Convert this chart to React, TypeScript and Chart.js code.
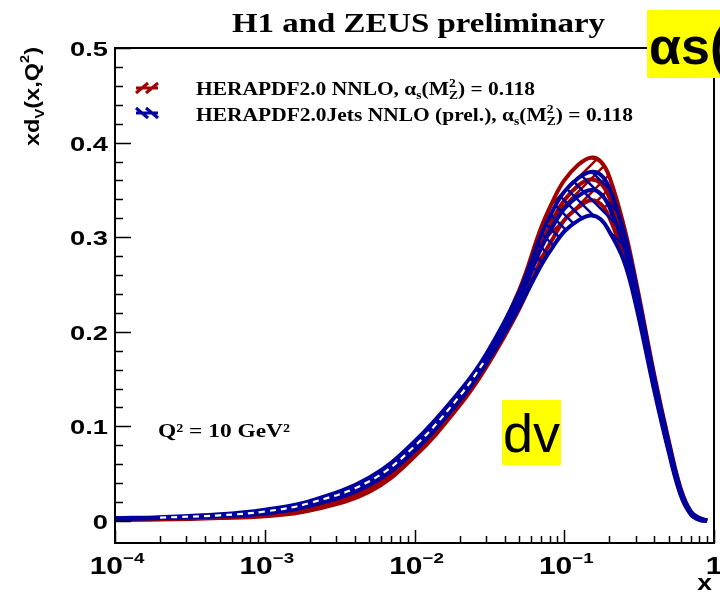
import React, { useEffect, useRef } from "react";
import { Chart, registerables } from "chart.js";

Chart.register(...registerables);

// ---------------- data ----------------
const xValues = [1e-4, 2e-4, 5e-4, 1e-3, 2e-3, 5e-3, 1e-2, 2e-2, 3e-2, 5e-2, 7e-2, 0.085, 0.1, 0.125, 0.15, 0.175, 0.2, 0.25, 0.3, 0.4, 0.5, 0.6, 0.7, 0.8, 0.9];

const redUpper = [0.002, 0.003, 0.005, 0.009, 0.017, 0.040, 0.078, 0.132, 0.172, 0.244, 0.310, 0.340, 0.360, 0.377, 0.384, 0.380, 0.364, 0.312, 0.255, 0.154, 0.084, 0.034, 0.010, 0.003, 0.0005];
const redCentral = [0.0015, 0.002, 0.004, 0.007, 0.014, 0.035, 0.073, 0.127, 0.167, 0.232, 0.292, 0.320, 0.339, 0.355, 0.361, 0.357, 0.342, 0.296, 0.244, 0.147, 0.079, 0.031, 0.009, 0.002, 0.0003];
const redLower = [0.001, 0.0015, 0.003, 0.005, 0.011, 0.031, 0.068, 0.122, 0.162, 0.224, 0.276, 0.300, 0.318, 0.332, 0.339, 0.335, 0.321, 0.280, 0.233, 0.140, 0.074, 0.028, 0.007, 0.001, 0.0001];

const blueUpper = [0.003, 0.004, 0.007, 0.012, 0.021, 0.046, 0.084, 0.137, 0.176, 0.242, 0.302, 0.330, 0.348, 0.363, 0.369, 0.366, 0.352, 0.306, 0.251, 0.151, 0.082, 0.033, 0.010, 0.003, 0.0005];
const blueCentral = [0.0025, 0.0035, 0.006, 0.010, 0.019, 0.042, 0.079, 0.132, 0.171, 0.234, 0.288, 0.313, 0.330, 0.344, 0.350, 0.346, 0.332, 0.291, 0.240, 0.144, 0.077, 0.030, 0.009, 0.002, 0.0003];
const blueLower = [0.002, 0.003, 0.005, 0.008, 0.016, 0.038, 0.074, 0.127, 0.166, 0.226, 0.270, 0.291, 0.306, 0.318, 0.323, 0.319, 0.306, 0.275, 0.229, 0.137, 0.072, 0.027, 0.007, 0.001, 0.0001];

const dashedFromIndex = 1; // white dashed central line shown for 2e-4 <= x <= 0.03
const dashedUpToIndex = 8;

const yTickValues = [0, 0.1, 0.2, 0.3, 0.4, 0.5];
const yTickLabels = ["0", "0.1", "0.2", "0.3", "0.4", "0.5"];
const xTickValues = [1e-4, 1e-3, 1e-2, 1e-1, 1];
const xTickExponents = ["\u22124", "\u22123", "\u22122", "\u22121", ""];

const titleText = "H1 and ZEUS preliminary";
const legendLabel1 = "HERAPDF2.0 NNLO, ";
const legendLabel2 = "HERAPDF2.0Jets NNLO (prel.), ";
const alphaValue = ") = 0.118";
const q2Text = "Q\u00B2 = 10 GeV\u00B2";

const RED = "#a00000";
const BLUE = "#00009c";

// ---------------- text helpers ----------------
type Seg = { t?: string; font: string; dy?: number; sup?: string; sub?: string; supDy?: number; subDy?: number };

function segWidth(ctx: CanvasRenderingContext2D, s: Seg) {
  ctx.font = s.font;
  if (s.sup !== undefined || s.sub !== undefined) {
    return Math.max(ctx.measureText(s.sup || "").width, ctx.measureText(s.sub || "").width);
  }
  return ctx.measureText(s.t || "").width;
}

function drawSegs(
  ctx: CanvasRenderingContext2D,
  segs: Seg[],
  x: number,
  y: number,
  opts: { targetW?: number; sx?: number; align?: "left" | "center" | "right"; color?: string }
) {
  let nat = 0;
  for (const s of segs) nat += segWidth(ctx, s);
  const sx = opts.targetW ? opts.targetW / nat : opts.sx ?? 1;
  const w = nat * sx;
  const align = opts.align || "left";
  const x0 = align === "right" ? x - w : align === "center" ? x - w / 2 : x;
  ctx.save();
  ctx.translate(x0, y);
  ctx.scale(sx, 1);
  ctx.textAlign = "left";
  ctx.textBaseline = "alphabetic";
  ctx.fillStyle = opts.color || "#000";
  let cx = 0;
  for (const s of segs) {
    ctx.font = s.font;
    const sw = segWidth(ctx, s);
    if (s.sup !== undefined || s.sub !== undefined) {
      if (s.sup) ctx.fillText(s.sup, cx, s.supDy ?? -7);
      if (s.sub) ctx.fillText(s.sub, cx, s.subDy ?? 4);
    } else {
      ctx.fillText(s.t || "", cx, s.dy ?? 0);
    }
    cx += sw;
  }
  ctx.restore();
}

function makeHatch(color: string, forward: boolean): CanvasPattern | string {
  const c = document.createElement("canvas");
  const n = 14;
  c.width = n;
  c.height = n;
  const g = c.getContext("2d");
  if (!g) return color;
  g.strokeStyle = color;
  g.lineWidth = 2.6;
  g.lineCap = "square";
  g.beginPath();
  if (forward) {
    g.moveTo(0, n);
    g.lineTo(n, 0);
    g.moveTo(-n / 2, n / 2);
    g.lineTo(n / 2, -n / 2);
    g.moveTo(n / 2, n + n / 2);
    g.lineTo(n + n / 2, n / 2);
  } else {
    g.moveTo(0, 0);
    g.lineTo(n, n);
    g.moveTo(-n / 2, n / 2);
    g.lineTo(n / 2, n + n / 2);
    g.moveTo(n / 2, -n / 2);
    g.lineTo(n + n / 2, n / 2);
  }
  g.stroke();
  const p = g.createPattern(c, "repeat");
  return p || color;
}

const SERIF = '"Liberation Serif", "Times New Roman", serif';
const SANS = '"Liberation Sans", Arial, Helvetica, sans-serif';

const decorPlugin = {
  id: "decor",
  afterDraw(chart: any) {
    const ctx: CanvasRenderingContext2D = chart.ctx;
    const { left, right, top, bottom } = chart.chartArea;
    const xs = chart.scales.x;
    const ys = chart.scales.y;
    ctx.save();

    // frame
    ctx.strokeStyle = "#000";
    ctx.lineWidth = 2;
    ctx.strokeRect(left, top, right - left, bottom - top);

    // y ticks (inside)
    ctx.lineWidth = 1.5;
    ctx.beginPath();
    for (let i = 0; i <= 25; i++) {
      const v = i * 0.02;
      const y = Math.round(ys.getPixelForValue(v)) + 0.5;
      const len = i % 5 === 0 ? 16 : 8;
      ctx.moveTo(left, y);
      ctx.lineTo(left + len, y);
    }
    // x ticks (inside)
    for (let d = -4; d <= 0; d++) {
      for (let m = 1; m <= 9; m++) {
        const v = m * Math.pow(10, d);
        if (v > 1.0000001) break;
        const x = Math.round(xs.getPixelForValue(v)) + 0.5;
        const len = m === 1 ? 13 : 7;
        ctx.moveTo(x, bottom);
        ctx.lineTo(x, bottom - len);
      }
    }
    ctx.stroke();

    // y tick labels
    yTickValues.forEach((v, i) => {
      const y = ys.getPixelForValue(v);
      drawSegs(ctx, [{ t: yTickLabels[i], font: `bold 21px ${SANS}` }], 108, y + 8, { sx: 1.3, align: "right" });
    });

    // x tick labels
    xTickValues.forEach((v, i) => {
      const x = xs.getPixelForValue(v);
      const segs: Seg[] = [{ t: "10", font: `bold 24px ${SANS}` }];
      if (xTickExponents[i]) segs.push({ t: xTickExponents[i], font: `bold 15px ${SANS}`, dy: -11 });
      else segs[0].t = "1";
      drawSegs(ctx, segs, x + (xTickExponents[i] ? 2 : 0), 574, { sx: 1.25, align: "center" });
    });

    // axis titles
    drawSegs(ctx, [{ t: "x", font: `bold 22px ${SANS}` }], 712, 590, { sx: 1.2, align: "right" });
    ctx.save();
    ctx.translate(39, 146);
    ctx.rotate(-Math.PI / 2);
    drawSegs(
      ctx,
      [
        { t: "xd", font: `bold 21px ${SANS}` },
        { t: "V", font: `bold 13px ${SANS}`, dy: 5 },
        { t: "(x,Q", font: `bold 21px ${SANS}` },
        { t: "2", font: `bold 13px ${SANS}`, dy: -10 },
        { t: ")", font: `bold 21px ${SANS}` },
      ],
      0,
      0,
      { targetW: 99 }
    );
    ctx.restore();

    // title
    drawSegs(ctx, [{ t: titleText, font: `bold 27px ${SERIF}` }], 232, 32, { targetW: 373 });

    // legend
    const lf = `bold 19px ${SERIF}`;
    const sf = `bold 12px ${SERIF}`;
    const alphaSegs = (): Seg[] => [
      { t: "\u03B1", font: lf },
      { t: "s", font: sf, dy: 4 },
      { t: "(M", font: lf },
      { sup: "2", sub: "Z", font: sf, supDy: -8, subDy: 4 },
      { t: alphaValue, font: lf },
    ];
    drawSegs(ctx, [{ t: legendLabel1, font: lf }, ...alphaSegs()], 196, 95, { targetW: 339 });
    drawSegs(ctx, [{ t: legendLabel2, font: lf }, ...alphaSegs()], 196, 121, { targetW: 437 });

    // legend symbols
    const sym = (cy: number, color: string, forward: boolean) => {
      ctx.save();
      ctx.strokeStyle = color;
      ctx.lineWidth = 3;
      ctx.lineCap = "butt";
      ctx.beginPath();
      ctx.moveTo(136, cy);
      ctx.lineTo(158, cy);
      for (const cx of [142, 152]) {
        if (forward) {
          ctx.moveTo(cx - 6, cy + 5);
          ctx.lineTo(cx + 6, cy - 5);
        } else {
          ctx.moveTo(cx - 6, cy - 5);
          ctx.lineTo(cx + 6, cy + 5);
        }
      }
      ctx.stroke();
      ctx.restore();
    };
    sym(88, RED, true);
    sym(113, BLUE, false);

    // Q2 annotation
    drawSegs(ctx, [{ t: q2Text, font: `bold 19px ${SERIF}` }], 158, 437, { targetW: 132 });

    // yellow overlay boxes
    ctx.fillStyle = "#ffff00";
    ctx.fillRect(502, 400, 59, 65);
    ctx.fillRect(647, 10, 73, 68);
    ctx.fillStyle = "#000";
    ctx.textAlign = "left";
    ctx.textBaseline = "alphabetic";
    ctx.font = `54px ${SANS}`;
    ctx.fillText("dv", 503, 452);
    ctx.font = `bold 52px ${SANS}`;
    ctx.fillText("\u03B1s(", 649, 64);

    ctx.restore();
  },
};

function toPoints(ys: number[], from = 0, upTo?: number) {
  const n = upTo === undefined ? xValues.length : upTo + 1;
  const pts: { x: number; y: number }[] = [];
  for (let i = from; i < n; i++) pts.push({ x: xValues[i], y: ys[i] });
  return pts;
}

export default function App() {
  const ref = useRef<HTMLCanvasElement | null>(null);

  useEffect(() => {
    if (!ref.current) return;
    const redHatch = makeHatch(RED, true);
    const blueHatch = makeHatch(BLUE, false);
    const common = {
      pointRadius: 0,
      tension: 0.4,
      borderWidth: 4,
    };
    const chart = new Chart(ref.current, {
      type: "line",
      data: {
        datasets: [
          {
            ...common,
            data: toPoints(blueCentral, dashedFromIndex, dashedUpToIndex),
            borderColor: "#ffffff",
            borderWidth: 2.2,
            borderDash: [6, 5],
            fill: false,
          },
          { ...common, data: toPoints(blueUpper), borderColor: BLUE, backgroundColor: blueHatch as any, fill: "+2" },
          { ...common, data: toPoints(blueCentral), borderColor: BLUE, fill: false },
          { ...common, data: toPoints(blueLower), borderColor: BLUE, fill: false },
          { ...common, data: toPoints(redUpper), borderColor: RED, backgroundColor: redHatch as any, fill: "+2" },
          { ...common, data: toPoints(redCentral), borderColor: RED, fill: false },
          { ...common, data: toPoints(redLower), borderColor: RED, fill: false },
        ],
      },
      options: {
        animation: false,
        responsive: false,
        maintainAspectRatio: false,
        devicePixelRatio: 1,
        layout: { padding: { left: 115, right: 6, top: 48, bottom: 53 } },
        scales: {
          x: { type: "logarithmic", min: 1e-4, max: 1, display: false },
          y: { type: "linear", min: -0.0233, max: 0.5, display: false },
        },
        plugins: {
          legend: { display: false },
          tooltip: { enabled: false },
          title: { display: false },
        },
      },
      plugins: [decorPlugin],
    });
    return () => chart.destroy();
  }, []);

  return (
    <div style={{ position: "absolute", left: 0, top: 0, width: 720, height: 596, background: "#fff" }}>
      <canvas ref={ref} width={720} height={596} style={{ display: "block", width: 720, height: 596 }} />
    </div>
  );
}
